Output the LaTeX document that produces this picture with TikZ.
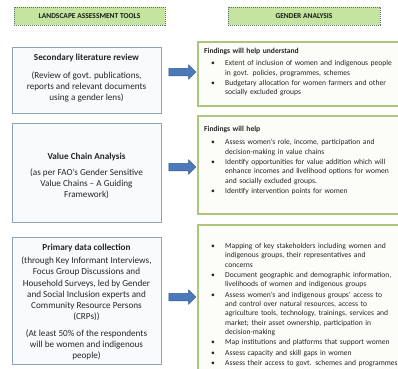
\documentclass[tikz,border=0pt]{standalone}
\usepackage{fontspec}
\setmainfont{Carlito}
\usetikzlibrary{shapes.arrows}

\definecolor{hdrfill}{RGB}{196,228,160}
\definecolor{hdrline}{RGB}{90,110,125}
\definecolor{hdrink}{RGB}{20,28,20}
\definecolor{toolline}{RGB}{140,165,182}
\definecolor{toolfill}{RGB}{248,250,252}
\definecolor{findline}{RGB}{172,198,125}
\definecolor{findfill}{RGB}{252,253,248}
\definecolor{arrowfill}{RGB}{74,122,186}
\definecolor{arrowline}{RGB}{52,90,140}
\definecolor{ink}{RGB}{38,38,38}

% bullet paragraph with hanging indent
\newcommand{\bul}[1]{\par\hangindent=21bp\hangafter=1\noindent\makebox[21bp][l]{\hspace{7bp}\textbullet}#1}

\tikzset{
  hdr/.style={draw=hdrline, dash pattern=on 1.2bp off 0.8bp, fill=hdrfill,
    line width=0.6bp, inner sep=0pt, text=hdrink,
    font=\fontsize{7.5}{9}\selectfont},
  tool/.style={draw=toolline, fill=toolfill, line width=0.9bp, inner sep=0pt},
  finding/.style={draw=findline, fill=findfill, line width=1.4bp, inner sep=0pt},
  tooltitle/.style={inner sep=0pt, text=ink, font=\bfseries\fontsize{9.2}{11.2}\selectfont},
  tooltext/.style={inner sep=0pt, text=ink, align=center, font=\fontsize{9.2}{11.2}\selectfont},
  findtext/.style={anchor=north west, inner sep=0pt, text=ink, text width=200bp,
    align=left, font=\fontsize{7.6}{9.3}\selectfont},
  flowarrow/.style={single arrow, draw=arrowline, fill=arrowfill, line width=0.5bp,
    minimum height=27bp, inner xsep=0pt, inner ysep=3.5bp,
    single arrow head extend=3.5bp}
}

\begin{document}
\begin{tikzpicture}[x=1bp, y=-1bp]
\useasboundingbox (0,0) rectangle (398,369);
\clip (0,0) rectangle (398,369);
\fill[white] (0,0) rectangle (398,369);

% column headers
\node[hdr, minimum width=151bp, minimum height=18bp] (hL) at (89.5,16) {\textbf{LANDSCAPE ASSESSMENT TOOLS}};
\node[hdr, minimum width=152bp, minimum height=18bp] (hR) at (304,16) {\textbf{GENDER ANALYSIS}};

% assessment tools (left column)
\node[tool, minimum width=149bp, minimum height=66bp] (L1) at (86.5,80) {};
\node[tool, minimum width=149bp, minimum height=99bp] (L2) at (86.5,172.5) {};
\node[tool, minimum width=149bp, minimum height=127bp] (L3) at (86.5,300.5) {};

\node[tooltitle] (L1t) at (86.5,58) {Secondary literature review};
\node[tooltext] (L1p) at (86.5,87) {(Review of govt. publications,\\reports and relevant documents\\using a gender lens)};

\node[tooltitle] (L2t) at (86.5,157) {Value Chain Analysis};
\node[tooltext] (L2p) at (86.5,184) {(as per FAO's Gender Sensitive\\Value Chains -- A Guiding\\Framework)};

\node[tooltitle] (L3t) at (86.5,248) {Primary data collection};
\node[tooltext] (L3p) at (86.5,289) {(through Key Informant Interviews,\\Focus Group Discussions and\\Household Surveys, led by Gender\\and Social Inclusion experts and\\Community Resource Persons\\(CRPs))};
\node[tooltext] (L3q) at (86.5,345) {(At least 50\% of the respondents\\will be women and indigenous\\people)};

% gender analysis findings (right column)
\node[finding, minimum width=206bp, minimum height=64bp] (R1) at (301,74) {};
\node[finding, minimum width=206bp, minimum height=98bp] (R2) at (301,165) {};
\node[finding, minimum width=206bp, minimum height=150bp] (R3) at (301,300) {};

\node[findtext] (R1t) at (204,48) {\setlength{\parskip}{1.2bp}%
  \textbf{Findings will help understand}\par\vspace{2bp}%
  \bul{Extent of inclusion of women and indigenous people\newline in govt. policies, programmes, schemes}%
  \bul{Budgetary allocation for women farmers and other\newline socially excluded groups}\par};

\node[findtext] (R2t) at (204,126) {\setlength{\parskip}{1.2bp}%
  \textbf{Findings will help}\par\vspace{3bp}%
  \bul{Assess women's role, income, participation and\newline decision-making in value chains}%
  \bul{Identify opportunities for value addition which will\newline enhance incomes and livelihood options for women\newline and socially excluded groups.}%
  \bul{Identify intervention points for women}\par};

\node[findtext] (R3t) at (204,238) {\setlength{\parskip}{1.2bp}%
  \bul{Mapping of key stakeholders including women and\newline indigenous groups, their representatives and\newline concerns}%
  \bul{Document geographic and demographic information,\newline livelihoods of women and indigenous groups}%
  \bul{Assess women's and indigenous groups' access to\newline and control over natural resources, access to\newline agriculture tools, technology, trainings, services and\newline market; their asset ownership, participation in\newline decision-making}%
  \bul{Map institutions and platforms that support women}%
  \bul{Assess capacity and skill gaps in women}%
  \bul{Assess their access to govt. schemes and programmes}\par};

% block arrows from each tool to its findings
\node[flowarrow] (a1) at (180.5,72) {};
\node[flowarrow] (a2) at (180.5,167) {};
\node[flowarrow] (a3) at (180.5,297) {};
\end{tikzpicture}
\end{document}
